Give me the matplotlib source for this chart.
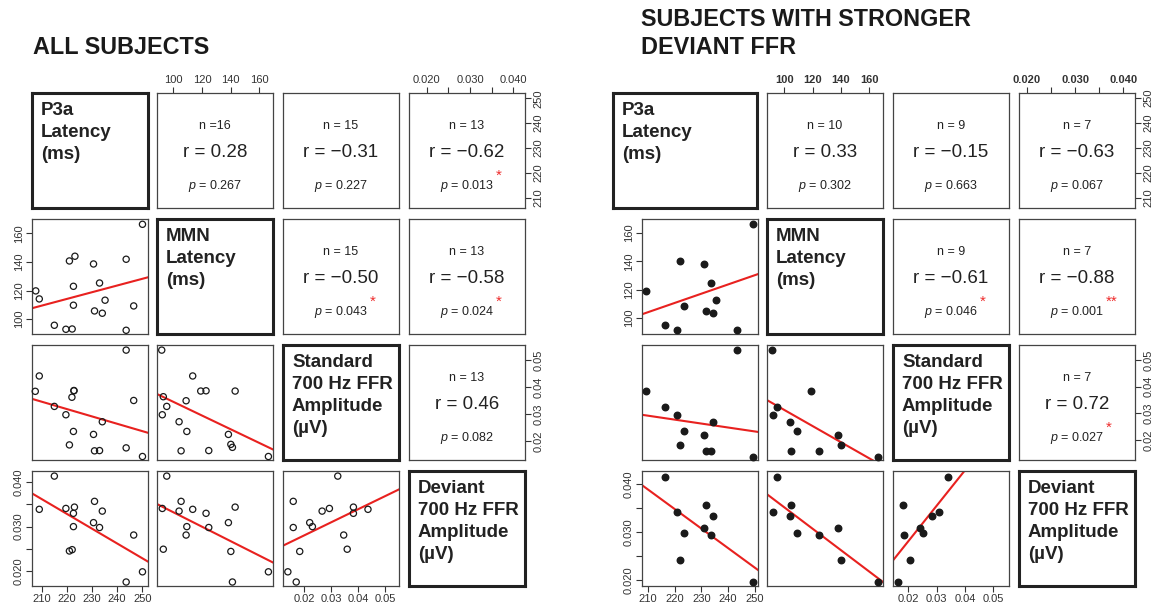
import matplotlib
matplotlib.use("Agg")
import matplotlib.pyplot as plt

plt.rcParams['font.family'] = 'Liberation Sans'
plt.rcParams['mathtext.fontset'] = 'custom'
plt.rcParams['mathtext.it'] = 'Liberation Sans:italic'
plt.rcParams['mathtext.rm'] = 'Liberation Sans'

# ---- all subjects: (x values, y values) for each lower panel ----
all_p3a_mmn = ([207.6, 209.0, 215.0, 219.6, 222.1, 221.0, 223.2, 222.6, 222.6, 230.6, 233.0, 231.0, 234.1, 235.2, 243.6, 243.6, 246.6, 250.1],
               [119.8, 114.2, 95.8, 93.0, 93.2, 140.7, 144.0, 123.0, 109.8, 138.6, 125.3, 105.8, 104.2, 113.3, 141.9, 92.3, 109.3, 166.3])
all_p3a_std = ([243.6, 209.0, 207.4, 222.8, 222.8, 222.0, 215.0, 219.6, 222.6, 221.0, 230.6, 234.1, 231.0, 233.0, 243.6, 246.6, 250.1],
               [0.0537, 0.0441, 0.0384, 0.0386, 0.0387, 0.0362, 0.0328, 0.0297, 0.0235, 0.0185, 0.0224, 0.0271, 0.0163, 0.0164, 0.0174, 0.0350, 0.0142])
all_mmn_std = ([91.9, 113.5, 119.1, 122.8, 143.1, 93.0, 108.9, 95.4, 92.3, 104.0, 109.4, 105.4, 124.7, 138.4, 140.1, 141.2, 166.3],
               [0.0537, 0.0441, 0.0385, 0.0386, 0.0385, 0.0364, 0.0349, 0.0328, 0.0297, 0.0271, 0.0235, 0.0163, 0.0164, 0.0224, 0.0187, 0.0176, 0.0142])
all_p3a_dev = ([209.0, 215.0, 219.6, 223.0, 222.6, 222.6, 221.0, 222.1, 231.0, 230.6, 234.1, 233.0, 246.6, 243.6, 250.1],
               [0.0339, 0.0414, 0.0341, 0.0344, 0.0330, 0.0300, 0.0245, 0.0248, 0.0357, 0.0309, 0.0335, 0.0298, 0.0281, 0.0175, 0.0198])
all_mmn_dev = ([95.4, 92.3, 93.0, 104.0, 105.4, 113.5, 109.4, 108.9, 122.8, 124.7, 138.4, 143.1, 140.1, 141.2, 166.3],
               [0.0414, 0.0341, 0.0249, 0.0335, 0.0357, 0.0339, 0.0300, 0.0281, 0.0330, 0.0298, 0.0309, 0.0344, 0.0244, 0.0175, 0.0198])
all_std_dev = ([0.0140, 0.0171, 0.0160, 0.0160, 0.0184, 0.0221, 0.0231, 0.0267, 0.0294, 0.0325, 0.0347, 0.0360, 0.0383, 0.0383, 0.0437],
               [0.0198, 0.0175, 0.0357, 0.0298, 0.0244, 0.0309, 0.0300, 0.0335, 0.0341, 0.0414, 0.0281, 0.0249, 0.0344, 0.0330, 0.0339])

# regression lines: y at the left and right end of the x range
all_fits = {
    (1, 0): (107.7, 129.3),
    (2, 0): (0.0356, 0.0230),
    (2, 1): (0.0374, 0.0168),
    (3, 0): (0.0375, 0.0221),
    (3, 1): (0.0351, 0.0219),
    (3, 2): (0.0257, 0.0384),
}

# n, r, p, stars for the upper panels
all_stats = {
    (0, 1): ("n =16", "0.28", "0.267", ""),
    (0, 2): ("n = 15", "\u22120.31", "0.227", ""),
    (0, 3): ("n = 13", "\u22120.62", "0.013", "*"),
    (1, 2): ("n = 15", "\u22120.50", "0.043", "*"),
    (1, 3): ("n = 13", "\u22120.58", "0.024", "*"),
    (2, 3): ("n = 13", "0.46", "0.082", ""),
}

# ---- subjects with stronger deviant FFR ----
strong_p3a_mmn = ([209.2, 216.4, 220.7, 222.1, 223.5, 231.1, 233.5, 231.6, 234.5, 235.5, 243.3, 249.5],
                  [119.3, 95.1, 92.0, 140.4, 108.9, 138.3, 124.9, 105.2, 103.5, 112.7, 91.5, 166.3])
strong_p3a_std = ([243.3, 209.2, 216.4, 220.7, 223.5, 222.1, 231.1, 234.5, 231.6, 233.5, 249.5],
                  [0.0537, 0.0383, 0.0326, 0.0295, 0.0233, 0.0182, 0.0221, 0.0269, 0.0160, 0.0161, 0.0139])
strong_mmn_std = ([91.5, 119.1, 94.8, 91.8, 103.8, 109.0, 104.7, 124.7, 138.1, 140.2, 166.3],
                  [0.0537, 0.0383, 0.0326, 0.0295, 0.0269, 0.0233, 0.0160, 0.0161, 0.0221, 0.0182, 0.0139])
strong_p3a_dev = ([216.4, 220.7, 223.5, 222.1, 231.1, 231.6, 234.5, 233.5, 249.5],
                  [0.0415, 0.0341, 0.0299, 0.0242, 0.0308, 0.0357, 0.0334, 0.0295, 0.0195])
strong_mmn_dev = ([94.8, 91.8, 103.8, 104.7, 109.0, 124.7, 138.1, 140.2, 166.3],
                  [0.0415, 0.0341, 0.0334, 0.0357, 0.0299, 0.0295, 0.0308, 0.0242, 0.0195])
strong_std_dev = ([0.0165, 0.0182, 0.0185, 0.0206, 0.0241, 0.0253, 0.0285, 0.0309, 0.0341],
                  [0.0195, 0.0357, 0.0295, 0.0242, 0.0308, 0.0299, 0.0334, 0.0341, 0.0415])

strong_fits = {
    (1, 0): (102.8, 131.1),
    (2, 0): (0.0295, 0.0231),
    (2, 1): (0.0350, 0.0103),
    (3, 0): (0.0398, 0.0221),
    (3, 1): (0.0379, 0.0196),
    (3, 2): (0.0241, 0.0544),
}

strong_stats = {
    (0, 1): ("n = 10", "0.33", "0.302", ""),
    (0, 2): ("n = 9", "\u22120.15", "0.663", ""),
    (0, 3): ("n = 7", "\u22120.63", "0.067", ""),
    (1, 2): ("n = 9", "\u22120.61", "0.046", "*"),
    (1, 3): ("n = 7", "\u22120.88", "0.001", "**"),
    (2, 3): ("n = 7", "0.72", "0.027", "*"),
}

labels = ["P3a\nLatency\n(ms)", "MMN\nLatency\n(ms)",
          "Standard\n700 Hz FFR\nAmplitude\n(\u00b5V)", "Deviant\n700 Hz FFR\nAmplitude\n(\u00b5V)"]

ticks = [[210, 220, 230, 240, 250], [100, 120, 140, 160],
         [0.02, 0.03, 0.04, 0.05], [0.020, 0.025, 0.030, 0.035, 0.040]]
ticklabels = [["210", "220", "230", "240", "250"], ["100", "120", "140", "160"],
              ["0.02", "0.03", "0.04", "0.05"], ["0.020", "", "0.030", "", "0.040"]]

W, H = 1161, 612
ROWS = [93, 219, 345, 471]
BOX_W, BOX_H = 116, 115

fig = plt.figure(figsize=(W / 100, H / 100), dpi=100)


def box(x, y, w=BOX_W):
    return fig.add_axes([x / W, 1 - (y + BOX_H) / H, w / W, BOX_H / H])


def style_ticks(ax, which, side, var, bold=False):
    axis = ax.xaxis if which == "x" else ax.yaxis
    axis.set_ticks(ticks[var])
    axis.set_ticklabels(ticklabels[var])
    kw = {"labelsize": 8, "length": 4, "width": 0.8, "color": "#333333",
          "labelcolor": "#333333", "pad": 2}
    if which == "x":
        ax.tick_params(axis="x", top=(side == "top"), bottom=(side == "bottom"),
                       labeltop=(side == "top"), labelbottom=(side == "bottom"), **kw)
    else:
        ax.tick_params(axis="y", left=(side == "left"), right=(side == "right"),
                       labelleft=(side == "left"), labelright=(side == "right"),
                       labelrotation=90, **kw)
        for t in ax.get_yticklabels():
            t.set_va("center")
    if bold:
        for t in axis.get_ticklabels():
            t.set_fontweight("bold")


def draw_grid(cols, pairs, fits, stats, xlims, ylims, filled, bold_top, first_box=None):
    for i in range(4):
        for j in range(4):
            if i == 0 and j == 0 and first_box is not None:
                ax = box(first_box[0], ROWS[0], first_box[1])
            else:
                ax = box(cols[j], ROWS[i])
            ax.set_xlim(xlims[j])
            ax.set_ylim(ylims[i])
            ax.set_xticks([])
            ax.set_yticks([])
            for s in ax.spines.values():
                s.set_color("#444444")
                s.set_linewidth(0.9)

            if i == j:
                for s in ax.spines.values():
                    s.set_color("#222222")
                    s.set_linewidth(2.2)
                x_txt = 9 / (first_box[1] if (i == 0 and first_box) else BOX_W)
                ax.text(x_txt, 0.92, labels[i], transform=ax.transAxes, ha="left", va="top",
                        fontsize=13.5, fontweight="bold", color="#222222", linespacing=1.38)
            elif i > j:
                xs, ys = pairs[(i, j)]
                if filled:
                    ax.scatter(xs, ys, s=22, color="#1a1a1a", zorder=3, clip_on=False)
                else:
                    ax.scatter(xs, ys, s=20, facecolors="none", edgecolors="#1a1a1a",
                               linewidths=0.9, zorder=3, clip_on=False)
                y0, y1 = fits[(i, j)]
                ax.plot(xlims[j], [y0, y1], color="#e8211f", lw=1.5, zorder=2)
                ax.set_xlim(xlims[j])
                ax.set_ylim(ylims[i])
            else:
                n, r, p, stars = stats[(i, j)]
                ax.text(0.5, 0.71, n, transform=ax.transAxes, ha="center", va="center",
                        fontsize=9, color="#222222")
                ax.text(0.5, 0.48, "r = " + r, transform=ax.transAxes, ha="center",
                        va="center", fontsize=13.5, color="#222222")
                pt = ax.text(0.5, 0.19, "$p$ = " + p, transform=ax.transAxes, ha="center",
                             va="center", fontsize=9, color="#222222")
                if stars:
                    ax.annotate(stars, xy=(1, 1), xycoords=pt, xytext=(1, 2),
                                textcoords="offset points", ha="left", va="center",
                                color="#ee2b2b", fontsize=11)

            # axis ticks around the outside, alternating sides
            if i == 0 and j == 1:
                style_ticks(ax, "x", "top", 1, bold_top)
            if i == 0 and j == 3:
                style_ticks(ax, "x", "top", 3, bold_top)
                style_ticks(ax, "y", "right", 0)
            if i == 1 and j == 0:
                style_ticks(ax, "y", "left", 1)
            if i == 2 and j == 3:
                style_ticks(ax, "y", "right", 2)
            if i == 3 and j == 0:
                style_ticks(ax, "y", "left", 3)
                style_ticks(ax, "x", "bottom", 0)
            if i == 3 and j == 2:
                style_ticks(ax, "x", "bottom", 2)


all_pairs = {(1, 0): all_p3a_mmn, (2, 0): all_p3a_std, (2, 1): all_mmn_std,
             (3, 0): all_p3a_dev, (3, 1): all_mmn_dev, (3, 2): all_std_dev}
strong_pairs = {(1, 0): strong_p3a_mmn, (2, 0): strong_p3a_std, (2, 1): strong_mmn_std,
                (3, 0): strong_p3a_dev, (3, 1): strong_mmn_dev, (3, 2): strong_std_dev}

draw_grid([32, 157, 283, 409], all_pairs, all_fits, all_stats,
          xlims=[(206.1, 252.3), (88.6, 169.5), (0.0122, 0.0552), (0.0159, 0.0427)],
          ylims=[(205.8, 252.2), (89.7, 170.0), (0.0129, 0.0556), (0.0166, 0.04255)],
          filled=False, bold_top=False)

draw_grid([642, 767, 893, 1019], strong_pairs, strong_fits, strong_stats,
          xlims=[(207.7, 251.3), (87.8, 169.7), (0.0146, 0.0555), (0.0184, 0.0424)],
          ylims=[(206.0, 252.0), (88.9, 169.9), (0.0126, 0.0556), (0.01876, 0.04275)],
          filled=True, bold_top=True, first_box=(613, 144))

fig.text(33 / W, 1 - 47 / H, "ALL SUBJECTS", fontsize=16.8, fontweight="bold",
         va="center", ha="left", color="#1a1a1a")
fig.text(641 / W, 1 - 33.5 / H, "SUBJECTS WITH STRONGER\nDEVIANT FFR", fontsize=16.8,
         fontweight="bold", va="center", ha="left", color="#1a1a1a", linespacing=1.33)

fig.savefig("out.png", dpi=100)
